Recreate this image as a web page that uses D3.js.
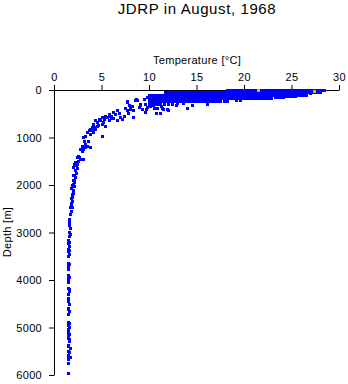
<!DOCTYPE html>
<html>
<head>
<meta charset="utf-8">
<script src="https://cdn.jsdelivr.net/npm/d3@7"></script>
<style>
  body { margin: 0; background: #fff; }
  svg { display: block; font-family: "Liberation Sans", Arial, Helvetica, sans-serif; }
</style>
</head>
<body>
<svg id="chart"></svg>
<script>
// Mixed layer: temperatures read along a few depth levels (m)
const bandDepths = [0, 60, 120, 180, 240, 300];
const bandTemps = [
  [18.3, 18.55, 18.85, 19.15, 19.45, 19.75, 20.05, 20.35, 20.65, 20.95, 21.25, 21.55, 21.85, 22.15, 22.45,
   22.75, 23.05, 23.35, 23.65, 23.95, 24.25, 24.55, 24.85, 25.15, 25.45, 25.75, 26.05, 26.35, 26.65, 26.95,
   27.25, 27.55, 27.85, 28.15, 28.45],
  [11.7, 12.0, 12.3, 12.6, 12.9, 13.2, 13.5, 13.8, 14.1, 14.35, 14.65, 14.95, 15.25, 15.55, 15.85, 16.15,
   16.45, 16.75, 17.05, 17.35, 17.65, 17.95, 18.25, 18.55, 18.85, 19.15, 19.45, 19.75, 20.05, 20.35, 20.65,
   20.95, 21.25, 21.55, 21.85, 22.15, 22.45, 22.75, 23.05, 23.35, 23.65, 23.95, 24.25, 24.55, 24.85, 25.15,
   25.45, 25.75, 26.05, 26.35, 26.65, 26.95, 27.25, 27.55, 27.85, 28.1],
  [10.1, 10.4, 10.7, 11.0, 11.3, 11.6, 11.9, 12.2, 12.5, 12.8, 13.1, 13.4, 13.7, 14.0, 14.3, 14.6, 14.9,
   15.2, 15.5, 15.8, 16.1, 16.4, 16.7, 17.0, 17.3, 17.6, 17.9, 18.2, 18.5, 18.8, 19.1, 19.4, 19.7, 20.0,
   20.3, 20.6, 20.9, 21.2, 21.5, 21.8, 22.1, 22.4, 22.7, 23.0, 23.3, 23.6, 23.9, 24.2, 24.5, 24.8, 25.1,
   25.4, 25.7, 26.0, 26.3, 26.6],
  [10.0, 10.3, 10.6, 10.9, 11.2, 11.5, 11.8, 12.1, 12.4, 12.7, 13.0, 13.3, 13.6, 13.9, 14.2, 14.5, 14.8,
   15.1, 15.4, 15.7, 16.0, 16.3, 16.6, 16.9, 17.2, 17.5, 17.8, 18.1, 18.4, 18.7, 19.0, 19.3, 19.6, 19.9,
   20.2, 20.5, 20.8, 21.1, 21.4, 21.7, 22.0, 22.3, 22.6, 22.9],
  [10.0, 10.3, 10.6, 10.9, 11.2, 11.5, 11.8, 12.1, 12.4, 12.7, 13.0, 13.3, 13.6, 13.9, 14.2, 14.5, 14.8,
   15.1, 15.4, 15.7, 16.0, 16.3, 16.6, 16.9, 17.2, 17.5, 17.9, 18.3],
  [10.0, 10.3, 10.6, 10.9, 11.2, 11.6, 12.0, 12.5]
];

// Scattered readings [temperature °C, depth m]
const upperScatter = [
  [23.3, 150], [23.6, 150], [23.9, 150], [24.2, 150], [24.5, 145], [24.8, 140], [25.1, 140], [25.4, 135],
  [25.7, 120], [27.0, 80], [27.4, 60], [22.5, 150], [25.6, 100], [19.6, 230], [19.2, 220],
  [10.5, 330], [10.6, 380], [10.9, 380], [11.3, 350], [11.4, 380], [11.5, 420], [11.2, 490], [12.0, 440],
  [12.9, 320], [13.0, 280], [13.6, 280], [14.1, 380], [14.6, 330], [16.2, 300], [11.9, 420], [10.8, 490],
  [9.8, 150], [10.0, 180], [9.5, 200], [8.7, 210], [8.6, 230], [8.8, 230], [10.3, 230], [7.7, 250],
  [9.1, 300], [9.65, 300], [10.2, 340], [8.3, 350], [8.95, 370], [9.8, 370], [9.1, 320], [9.3, 410],
  [9.7, 410], [9.65, 480], [7.7, 270], [8.1, 410], [8.4, 440], [7.7, 440], [7.9, 330], [8.0, 360],
  [7.5, 380]
];

const thermocline = [
  [8.35, 580], [7.4, 550], [7.0, 580], [6.7, 440], [6.5, 510], [6.1, 550], [6.7, 650], [7.2, 620],
  [5.8, 510], [5.6, 580], [5.45, 550], [5.3, 620], [5.1, 580], [4.9, 650], [4.75, 620], [4.55, 690],
  [4.4, 650], [4.2, 720], [5.1, 720], [5.45, 760], [5.8, 650], [6.0, 600], [6.3, 590], [5.9, 560],
  [6.9, 500], [6.3, 470], [7.8, 500], [5.2, 680], [4.7, 740],
  [4.0, 790], [3.85, 830], [3.7, 860], [3.5, 900], [3.35, 970], [3.85, 930], [4.2, 900], [4.4, 830],
  [4.6, 760], [4.3, 780], [5.1, 970], [4.1, 860],
  [3.15, 1000], [3.35, 1140], [3.0, 1180], [3.5, 1180], [2.8, 1250], [3.15, 1250], [3.85, 1210],
  [3.35, 1210], [3.0, 1290], [2.45, 1420], [2.6, 1500], [2.3, 1530], [2.8, 1460], [2.4, 1590],
  [2.9, 1470], [3.1, 1460], [2.5, 1560], [2.6, 1400], [2.7, 1420], [2.2, 1560], [3.6, 1080], [3.2, 1080],
  [2.1, 1640], [2.3, 1700], [2.2, 1790], [2.05, 1800], [2.3, 1850], [2.0, 1900], [2.2, 1950],
  [1.95, 2000], [2.15, 2040], [1.85, 2070], [2.0, 2120], [1.9, 2200], [1.85, 2280], [1.95, 2350],
  [1.8, 2420], [1.75, 2470], [1.8, 2560], [1.7, 2630], [2.5, 1650], [2.4, 1750], [2.15, 1900],
  [2.0, 1980], [2.05, 2180], [1.95, 2260], [1.9, 2480], [1.85, 2380]
];

const deepWater = [
  [1.6, 2720], [1.65, 2780], [1.6, 2850], [1.7, 2920], [1.6, 2990], [1.75, 3050], [1.6, 3090],
  [1.55, 3170], [1.5, 3230], [1.6, 3290], [1.55, 3350], [1.5, 3410], [1.6, 3470], [1.55, 3510],
  [1.6, 3200], [1.6, 3380],
  [1.5, 3650], [1.55, 3710], [1.5, 3780], [1.6, 3680],
  [1.5, 3910], [1.55, 3970], [1.5, 4030], [1.55, 4060], [1.6, 3940],
  [1.5, 4180], [1.6, 4240], [1.5, 4310], [1.6, 4210],
  [1.5, 4390], [1.55, 4450], [1.6, 4520], [1.5, 4420],
  [1.5, 4600], [1.6, 4660], [1.5, 4730], [1.55, 4630],
  [1.55, 4890], [1.5, 4950], [1.6, 5000], [1.5, 5040], [1.6, 4920],
  [1.5, 5110], [1.55, 5170], [1.5, 5230], [1.6, 5290], [1.6, 5140], [1.6, 5260],
  [1.55, 5380], [1.75, 5440], [1.5, 5500], [1.6, 5530], [1.5, 5410],
  [1.5, 5590], [1.75, 5640], [1.55, 5680], [1.5, 5620],
  [1.5, 5750], [1.55, 5960]
];

// Flagged readings (orange)
const flagged = [[21.5, 5], [27.4, 25]];

const tempTicks = [0, 5, 10, 15, 20, 25, 30];
const depthTicks = [0, 1000, 2000, 3000, 4000, 5000, 6000];

const width = 348;
const height = 384;

const svg = d3.select("#chart").attr("width", width).attr("height", height);

const x = d3.scaleLinear().domain([0, 30]).range([54, 339]);
const y = d3.scaleLinear().domain([0, 6000]).range([90, 375]);

// Title and axis labels
svg.append("text")
  .attr("x", 197).attr("y", 14)
  .attr("text-anchor", "middle")
  .style("font-size", "15px")
  .style("letter-spacing", "0.6px")
  .text("JDRP in August, 1968");

svg.append("text")
  .attr("x", 197).attr("y", 64)
  .attr("text-anchor", "middle")
  .style("font-size", "11px")
  .style("letter-spacing", "0.3px")
  .text("Temperature [°C]");

svg.append("text")
  .attr("transform", "translate(11,232) rotate(-90)")
  .attr("text-anchor", "middle")
  .style("font-size", "11px")
  .style("letter-spacing", "0.3px")
  .text("Depth [m]");

// Axes
const xAxis = svg.append("g")
  .attr("transform", `translate(0,${y(0)})`)
  .call(d3.axisTop(x).tickValues(tempTicks).tickSize(5).tickSizeOuter(0).tickPadding(4));

const yAxis = svg.append("g")
  .attr("transform", `translate(${x(0)},0)`)
  .call(d3.axisLeft(y).tickValues(depthTicks).tickFormat(d3.format("d"))
    .tickSize(5).tickSizeOuter(0).tickPadding(7));

[xAxis, yAxis].forEach((g) => {
  g.selectAll("text")
    .style("font-size", "11px")
    .style("font-family", "Liberation Sans, Arial, sans-serif")
    .style("letter-spacing", "0.3px")
    .attr("fill", "#000");
  g.selectAll("line, path").attr("stroke", "#000");
});

// Assemble all blue readings
const bluePoints = [];
bandDepths.forEach((d, i) => bandTemps[i].forEach((t) => bluePoints.push([t, d])));
upperScatter.concat(thermocline, deepWater).forEach((p) => bluePoints.push(p));

const size = 3;

function drawPoints(data, color) {
  svg.append("g")
    .attr("shape-rendering", "crispEdges")
    .selectAll("rect")
    .data(data)
    .enter()
    .append("rect")
    .attr("x", (d) => Math.round(x(d[0]) - size / 2))
    .attr("y", (d) => Math.round(y(d[1]) - size / 2))
    .attr("width", size)
    .attr("height", size)
    .attr("fill", color);
}

drawPoints(bluePoints, "#0000ff");
drawPoints(flagged, "#ffa500");
</script>
</body>
</html>
